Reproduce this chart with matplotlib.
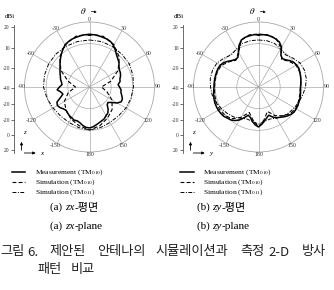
import matplotlib
matplotlib.use('Agg')
import matplotlib.pyplot as plt
from matplotlib.lines import Line2D
from matplotlib.patches import FancyArrowPatch
import numpy as np

plt.rcParams['font.family'] = ['Liberation Serif', 'Noto Sans CJK KR']
plt.rcParams['mathtext.fontset'] = 'stix'

W, H = 334, 290
R = 65      # polar radius, px
CY = 87     # polar centre, px from top

# sampling angles (deg, clockwise from +z)
ang_meas = np.arange(0, 360, 5)
ang_10 = np.arange(0, 360, 10)
ang_15 = np.arange(0, 360, 15)

# zx-plane, dBi
zx_meas = [8.0, 8.5, 8.0, 7.5, 7.1, 6.2, 4.3, 1.5, -1.2, -3.1, -4.5, -6.8,
           -8.2, -8.6, -9.5, -10.9, -11.4, -13.5, -12.3, -10.8, -10.5, -9.1, -7.7, -7.7,
           -10.5, -15.1, -17.8, -16.9, -13.2, -10.5, -9.5, -7.7, -6.8, -5.8, -4.5, -3.1,
           -2.2, -2.6, -4.0, -5.8, -6.8, -6.3, -7.2, -7.7, -8.6, -9.5, -8.6, -6.8,
           -5.8, -6.8, -11.4, -14.6, -13.2, -10.0, -12.3, -14.5, -13.7, -12.3, -11.4, -10.0,
           -8.6, -6.8, -4.5, -2.2, 0.2, 2.9, 4.8, 6.2, 7.1, 7.5, 8.0, 8.5]
zx_sim010 = [9.0, 8.5, 5.2, -1.2, -9.5, -19.7, -29.0, -23.4, -16.0, -10.5, -6.8, -3.0,
             -0.3, -3.0, -5.8, -9.5, -13.2, -19.7, -27.0, -19.7, -9.5, -1.2, 5.2, 8.5]
zx_sim011 = [3.4, 3.4, 3.0, 2.5, 2.5, 1.5, 0.6, -0.3, -1.2, -2.2, -2.2, -1.2,
             -0.3, -1.2, -2.2, -2.2, -1.2, 0.6, 2.5, 3.0, 3.4, 3.4, 3.4, 3.4]

# zy-plane, dBi
zy_meas = [8.0, 8.5, 8.5, 8.0, 7.1, 5.7, 2.5, -4.0, -5.8, -4.5, -2.2, -0.3,
           0.6, 1.1, 0.6, 0.2, -0.3, -0.8, -1.2, -1.2, -0.8, -0.3, -0.3, 0.2,
           0.2, 0.2, -0.8, -2.2, -4.0, -5.8, -7.2, -9.5, -12.3, -10.5, -8.2, -5.4,
           -3.1, -4.9, -7.7, -10.9, -12.3, -8.6, -4.9, -2.2, -0.3, 0.6, 2.0, 2.5,
           2.9, 2.9, 2.9, 2.5, 2.0, 1.5, 1.1, 1.1, 1.1, 1.1, 1.1, 1.1,
           0.6, -0.8, -3.1, -5.4, -6.8, -6.8, -3.1, 2.5, 6.2, 7.5, 8.0, 8.5]
zy_sim010 = [8.9, 8.9, 7.5, 1.5, -6.8, -3.1, 0.2, 0.6, -0.3, -1.2, -1.2, -0.8,
             -0.3, -1.7, -5.4, -9.5, -16.0, -9.5, -3.1, -9.5, -15.0, -7.7, -1.7, 0.6,
             1.5, 1.5, 1.1, 0.6, 0.6, 0.6, -0.3, -4.0, -7.7, -3.1, 6.2, 8.9]
zy_sim011 = [3.4, 3.4, 2.9, 0.6, -1.2, 1.5, 4.3, 5.2, 4.8, 3.4, 1.5, -0.3,
             -1.7, -3.1, -4.9, -6.8, -8.6, -7.7, -5.8, -7.7, -8.6, -6.8, -4.0, -2.2,
             -0.3, 1.5, 3.4, 4.3, 5.2, 5.2, 4.3, 1.5, -1.2, 0.6, 2.9, 3.4]

theta_ticks = [0, 30, 60, 90, 120, 150, 180, 210, 240, 270, 300, 330]
theta_labels = ['0', '30', '60', '90', '120', '150', '180',
                '-150', '-120', '-90', '-60', '-30']
scale_labels = ['20', '10', '-20', '-40', '-20', '-20', '0', '20']
scale_pos = [27, 47.5, 67.5, 88, 104, 119.5, 135, 150]   # px from top

legend_labels = ['Measurement (TM$_{010}$)', 'Simulation (TM$_{010}$)',
                 'Simulation (TM$_{011}$)']
styles = [dict(ls='-', lw=1.1), dict(ls=(0, (3.5, 2)), lw=0.8),
          dict(ls=(0, (4, 1.5, 1, 1.5)), lw=0.7)]


def fx(px):
    return px / W


def fy(py):
    return 1 - py / H


fig = plt.figure(figsize=(W / 100, H / 100), dpi=100)
grid_c = '#a8a8a8'


def closed(a, v):
    a = np.deg2rad(np.append(a, 360))
    return a, np.append(v, v[0])


def panel(cx, meas, sim0, ang0, sim1, ang1, h_axis):
    ax = fig.add_axes([fx(cx - R), fy(CY + R), 2 * R / W, 2 * R / H],
                      projection='polar')
    ax.set_theta_zero_location('N')
    ax.set_theta_direction(-1)
    ax.set_ylim(-40, 20)
    ax.set_yticks([-20, 0])
    ax.set_yticklabels([])
    ax.set_thetagrids(theta_ticks, [])
    ax.grid(color=grid_c, lw=0.5)
    ax.spines['polar'].set_color(grid_c)
    ax.spines['polar'].set_linewidth(0.6)
    ax.patch.set_alpha(0)
    for t, lab in zip(theta_ticks, theta_labels):
        ax.text(np.deg2rad(t), 22.6, lab, fontsize=4.2, color='#333333',
                ha='center', va='center', clip_on=False)
    for (a, v), st in zip([(ang_meas, meas), (ang0, sim0), (ang1, sim1)], styles):
        t, r = closed(a, v)
        ax.plot(t, r, color='black', **st)

    # dBi scale on the left
    sx = cx - 75.5
    sa = fig.add_axes([fx(sx), fy(153), 0.0001, 128 / H])
    sa.set_ylim(153, 25)
    sa.set_yticks(scale_pos)
    sa.set_yticklabels(scale_labels)
    sa.set_xticks([])
    for s in ['top', 'right', 'bottom']:
        sa.spines[s].set_visible(False)
    sa.spines['left'].set_color('#555555')
    sa.spines['left'].set_linewidth(0.6)
    sa.tick_params(axis='y', direction='out', length=2, width=0.5,
                   labelsize=4, pad=1, colors='#333333')
    sa.patch.set_alpha(0)
    fig.text(fx(sx - 4), fy(16), 'dBi', fontsize=5, ha='center', va='center')

    # theta arrow on top
    fig.text(fx(cx - 6), fy(10.5), r'$\theta$', fontsize=6.5, ha='center', va='center')
    fig.add_artist(FancyArrowPatch(
        (fx(cx - 1), fy(11)), (fx(cx + 10), fy(12.5)), transform=fig.transFigure,
        arrowstyle='-|>', mutation_scale=3, lw=0.5, color='black'))

    # coordinate axes glyph
    ox = cx - 68
    fig.add_artist(FancyArrowPatch(
        (fx(ox), fy(153)), (fx(ox), fy(139)), transform=fig.transFigure,
        arrowstyle='-|>', mutation_scale=4, lw=0.6, color='black'))
    fig.add_artist(FancyArrowPatch(
        (fx(ox), fy(153)), (fx(ox + 17), fy(153)), transform=fig.transFigure,
        arrowstyle='-|>', mutation_scale=4, lw=0.6, color='black'))
    fig.text(fx(ox + 2), fy(133), 'z', fontsize=5, style='italic', va='center')
    fig.text(fx(ox + 19), fy(153), h_axis, fontsize=5, style='italic', va='center')


panel(89.5, zx_meas, zx_sim010, ang_15, zx_sim011, ang_15, 'x')
panel(258.5, zy_meas, zy_sim010, ang_10, zy_sim011, ang_10, 'y')

# legends
for lx in [11.5, 180]:
    for i, (lab, st) in enumerate(zip(legend_labels, styles)):
        yy = fy(171.7 + 10 * i)
        fig.add_artist(Line2D([fx(lx), fx(lx + 13.5)], [yy, yy], color='black',
                              transform=fig.transFigure, **st))
        fig.text(fx(lx + 23.5), yy, lab, fontsize=5.4, va='center')

renderer = fig.canvas.get_renderer()


def run(x, y, parts, size):
    for s, kw in parts:
        t = fig.text(fx(x), fy(y), s, fontsize=size, va='center', **kw)
        x += t.get_window_extent(renderer).width


run(50, 207.5, [('(a) ', {}), ('zx', {'style': 'italic'}), ('-평면', {})], 8)
run(50, 226.5, [('(a) ', {}), ('zx', {'style': 'italic'}), ('-plane', {})], 8)
run(197, 207.5, [('(b) ', {}), ('zy', {'style': 'italic'}), ('-평면', {})], 8)
run(197, 226.5, [('(b) ', {}), ('zy', {'style': 'italic'}), ('-plane', {})], 8)

cap1 = [('그림', 0), ('6.', 27), ('제안된', 49), ('안테나의', 97),
        ('시뮬레이션과', 155), ('측정', 240), ('2-D', 268), ('방사', 302)]
cap2 = [('패턴', 37), ('비교', 71)]
for w, x in cap1:
    fig.text(fx(x), fy(252), w, fontsize=9.5, va='center',
             family=['Noto Sans CJK KR', 'DejaVu Sans'], color='#222222')
for w, x in cap2:
    fig.text(fx(x), fy(270), w, fontsize=9.5, va='center',
             family=['Noto Sans CJK KR', 'DejaVu Sans'], color='#222222')

fig.savefig('out.png', dpi=100)
